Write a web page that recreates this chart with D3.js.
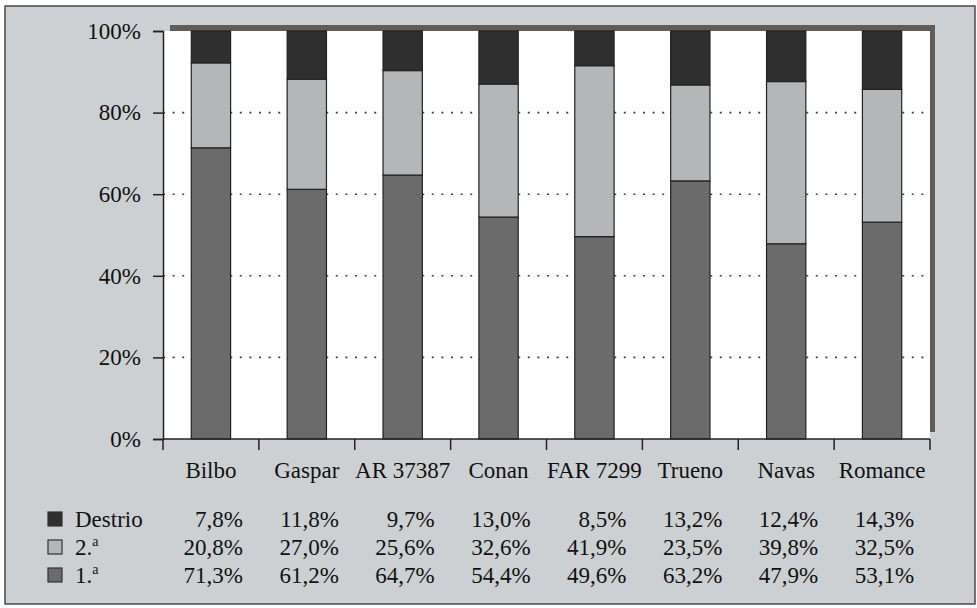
<!DOCTYPE html>
<html>
<head>
<meta charset="utf-8">
<script src="https://cdn.jsdelivr.net/npm/d3@7"></script>
<style>
  html, body { margin: 0; padding: 0; background: #ffffff; }
  svg { display: block; }
  svg text { font-family: "Liberation Serif", "Times New Roman", "DejaVu Serif", serif; }
</style>
</head>
<body>
<div id="chart"></div>
<script>
const categorias = ["Bilbo", "Gaspar", "AR 37387", "Conan", "FAR 7299", "Trueno", "Navas", "Romance"];
const destrio = [7.8, 11.8, 9.7, 13.0, 8.5, 13.2, 12.4, 14.3];
const segunda = [20.8, 27.0, 25.6, 32.6, 41.9, 23.5, 39.8, 32.5];
const primera = [71.3, 61.2, 64.7, 54.4, 49.6, 63.2, 47.9, 53.1];
const yTicks = [0, 20, 40, 60, 80, 100];

const width = 977, height = 608;
const margin = { top: 31, right: 47, bottom: 169, left: 163 };
const fs = 23;

const series = [
  { key: "1.ª", valores: primera, color: "#6b6b6b" },
  { key: "2.ª", valores: segunda, color: "#b4b6b7" },
  { key: "Destrio", valores: destrio, color: "#2f2f2f" },
];

const data = categorias.map((c, i) => {
  const fila = { cat: c };
  series.forEach(s => { fila[s.key] = s.valores[i]; });
  return fila;
});

const svg = d3.select("#chart").append("svg")
  .attr("width", width)
  .attr("height", height)
  .attr("viewBox", [0, 0, width, height]);

// fondo y marco
svg.append("rect")
  .attr("x", 5).attr("y", 6)
  .attr("width", 970).attr("height", 598)
  .attr("fill", "#cdd0d2")
  .attr("stroke", "#4a4a4a")
  .attr("stroke-width", 1.5);

const x = d3.scaleBand()
  .domain(categorias)
  .range([margin.left, width - margin.right])
  .paddingInner(0.59)
  .paddingOuter(0.295);

const y = d3.scaleLinear()
  .domain([0, 100])
  .range([height - margin.bottom, margin.top]);

const x0 = margin.left, x1 = width - margin.right;
const yTop = y(100), yBase = y(0);

// sombra del area de trazado
svg.append("rect")
  .attr("x", x0 + 7).attr("y", yTop - 6)
  .attr("width", x1 - x0 - 2).attr("height", yBase - yTop - 1)
  .attr("fill", "#5f5c5a");

svg.append("rect")
  .attr("x", x0).attr("y", yTop)
  .attr("width", x1 - x0).attr("height", yBase - yTop)
  .attr("fill", "#ffffff");

// lineas de cuadricula punteadas
svg.append("g")
  .selectAll("line")
  .data(yTicks.filter(t => t > 0 && t < 100))
  .join("line")
  .attr("x1", x0).attr("x2", x1)
  .attr("y1", d => y(d)).attr("y2", d => y(d))
  .attr("stroke", "#444")
  .attr("stroke-width", 1.6)
  .attr("stroke-dasharray", "2,7.6");

// barras apiladas al 100%
const stack = d3.stack()
  .keys(series.map(s => s.key))
  .offset(d3.stackOffsetExpand);

const capas = stack(data);

svg.append("g")
  .selectAll("g")
  .data(capas)
  .join("g")
  .attr("fill", (d, i) => series[i].color)
  .selectAll("rect")
  .data(d => d)
  .join("rect")
  .attr("x", d => x(d.data.cat))
  .attr("width", x.bandwidth())
  .attr("y", d => y(d[1] * 100))
  .attr("height", d => y(d[0] * 100) - y(d[1] * 100))
  .attr("stroke", "#222")
  .attr("stroke-width", 1.2);

// eje y
const yAxis = g => g
  .attr("transform", `translate(${x0},0)`)
  .call(d3.axisLeft(y).tickValues(yTicks).tickFormat(d => d + "%").tickSize(10).tickPadding(12))
  .call(g => g.selectAll("path, line").attr("stroke", "#222").attr("stroke-width", 1.5))
  .call(g => g.selectAll("text").attr("fill", "#111").attr("font-size", fs).attr("font-family", null));

svg.append("g").call(yAxis);

// eje x con marcas en los limites de las categorias
svg.append("line")
  .attr("x1", x0).attr("x2", x1)
  .attr("y1", yBase).attr("y2", yBase)
  .attr("stroke", "#222").attr("stroke-width", 1.5);

const bordes = categorias.map(c => x(c) + x.bandwidth() / 2 - x.step() / 2).concat([x1]);
svg.append("g")
  .selectAll("line")
  .data(bordes)
  .join("line")
  .attr("x1", d => d).attr("x2", d => d)
  .attr("y1", yBase).attr("y2", yBase + 11)
  .attr("stroke", "#222").attr("stroke-width", 1.5);

svg.append("g")
  .selectAll("text")
  .data(categorias)
  .join("text")
  .attr("x", d => x(d) + x.bandwidth() / 2)
  .attr("y", 478)
  .attr("text-anchor", "middle")
  .attr("font-size", fs)
  .attr("fill", "#111")
  .text(d => d);

// tabla de datos
const fmt = v => v.toFixed(1).replace(".", ",") + "%";
const filas = [
  { key: "Destrio", valores: destrio, color: "#2f2f2f", yb: 527 },
  { key: "2.ª", valores: segunda, color: "#b4b6b7", yb: 555 },
  { key: "1.ª", valores: primera, color: "#6b6b6b", yb: 583 },
];

const tabla = svg.append("g");
filas.forEach(f => {
  tabla.append("rect")
    .attr("x", 48).attr("y", f.yb - 15)
    .attr("width", 14).attr("height", 14)
    .attr("fill", f.color)
    .attr("stroke", "#333").attr("stroke-width", 1.2);
  const etiqueta = tabla.append("text")
    .attr("x", 75).attr("y", f.yb)
    .attr("font-size", fs)
    .attr("fill", "#111");
  if (f.key === "Destrio") {
    etiqueta.text("Destrio");
  } else {
    etiqueta.text(f.key.slice(0, 2));
    etiqueta.append("tspan").attr("font-size", 14).attr("dy", -9).text("a");
  }
  tabla.append("g")
    .selectAll("text")
    .data(f.valores)
    .join("text")
    .attr("x", (d, i) => x(categorias[i]) + x.bandwidth() / 2 + 32)
    .attr("y", f.yb)
    .attr("text-anchor", "end")
    .attr("font-size", fs)
    .attr("fill", "#111")
    .text(d => fmt(d));
});
</script>
</body>
</html>
